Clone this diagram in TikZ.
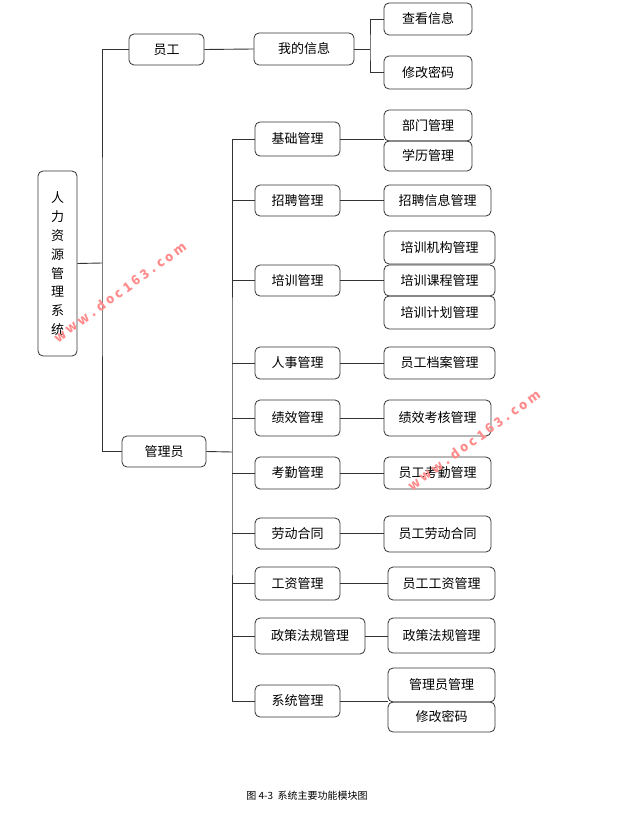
\documentclass[tikz,border=0pt]{standalone}
\usepackage{fontspec}
\setmainfont{Noto Sans CJK SC}
\newfontfamily\capfont{Noto Sans CJK SC}
\begin{document}
\begin{tikzpicture}[x=1pt,y=-1pt,
  box/.style={draw=black!80,line width=0.8pt,rounded corners=5pt,inner sep=0pt,font=\fontsize{13}{15}\selectfont},
  ln/.style={draw=black!80,line width=0.9pt},
  wm/.style={text=red!45!white,font=\fontsize{13}{14}\selectfont\bfseries,rotate=36}]
\newcommand{\bx}[6]{\node[box,minimum width={#4-#2},minimum height={#5-#3}] (#1) at ({(#2+#4)/2},{(#3+#5)/2}) {#6};}
\useasboundingbox (0,0) rectangle (618,818);
\bx{root}{38}{171}{77}{356}{\shortstack{人\\[4pt]力\\[4pt]资\\[4pt]源\\[4pt]管\\[4pt]理\\[4pt]系\\[4pt]统}}
\bx{yg}{129}{34}{204}{65}{员工}
\bx{wd}{254}{33}{354}{65}{我的信息}
\bx{ck}{384}{3}{472}{35}{查看信息}
\bx{xg}{384}{56}{472}{89}{修改密码}
\bx{gly}{122}{436}{206}{467}{管理员}
\bx{a1}{255}{122}{340}{156}{基础管理}
\bx{a1a}{384}{110}{472}{141}{部门管理}
\bx{a1b}{384}{141}{472}{171}{学历管理}
\bx{a2}{255}{185}{340}{216}{招聘管理}
\bx{a2a}{384}{185}{491}{216}{招聘信息管理}
\bx{a3}{255}{265}{340}{296}{培训管理}
\bx{a3a}{384}{231}{495}{264}{培训机构管理}
\bx{a3b}{384}{265}{495}{296}{培训课程管理}
\bx{a3c}{384}{296}{495}{329}{培训计划管理}
\bx{a4}{255}{347}{340}{379}{人事管理}
\bx{a4a}{384}{347}{495}{379}{员工档案管理}
\bx{a5}{255}{400}{340}{436}{绩效管理}
\bx{a5a}{384}{400}{491}{436}{绩效考核管理}
\bx{a6}{255}{457}{340}{489}{考勤管理}
\bx{a6a}{384}{457}{491}{489}{员工考勤管理}
\bx{a7}{255}{518}{340}{549}{劳动合同}
\bx{a7a}{384}{516}{491}{552}{员工劳动合同}
\bx{a8}{255}{567}{340}{600}{工资管理}
\bx{a8a}{388}{567}{495}{600}{员工工资管理}
\bx{a9}{255}{618}{365}{654}{政策法规管理}
\bx{a9a}{388}{618}{495}{653}{政策法规管理}
\bx{a10}{255}{685}{340}{717}{系统管理}
\bx{a10a}{388}{668}{495}{702}{管理员管理}
\bx{a10b}{388}{702}{495}{732}{修改密码}
\coordinate (t) at (102,263);
\draw[ln] (root.east) -- (t);
\draw[ln] (yg.west) -| (t) |- (gly.west);
\draw[ln] (yg.east) -- (wd.west);
\coordinate (w) at (370,49);
\draw[ln] (wd.east) -- (w);
\draw[ln] (ck.west) -| (w) |- (xg.west);
\coordinate (s) at (232,452);
\draw[ln] (gly.east) -- (s);
\draw[ln] (a1.west) -| (s) |- (a10.west);
\foreach \n in {a2,a3,a4,a5,a6,a7,a8,a9} \draw[ln] (\n.west) -- (\n.west -| s);
\draw[ln] (a1.east) -- (a1.east -| a1a.west);
\draw[ln] (a2.east) -- (a2a.west);
\draw[ln] (a3.east) -- (a3b.west);
\draw[ln] (a4.east) -- (a4a.west);
\draw[ln] (a5.east) -- (a5a.west);
\draw[ln] (a6.east) -- (a6a.west);
\draw[ln] (a7.east) -- (a7.east -| a7a.west);
\draw[ln] (a8.east) -- (a8a.west);
\draw[ln] (a9.east) -- (a9.east -| a9a.west);
\draw[ln] (a10.east) -- (a10.east -| a10a.west);
\node[font=\capfont\fontsize{10}{12}\selectfont] (cap) at (307,796) {图 4-3 \ 系统主要功能模块图};
\node[wm] (w1) at (120,292) {w w w . d o c 1 6 3 . c o m};
\node[wm] (w2) at (474,440) {w w w . d o c 1 6 3 . c o m};
\end{tikzpicture}
\end{document}
